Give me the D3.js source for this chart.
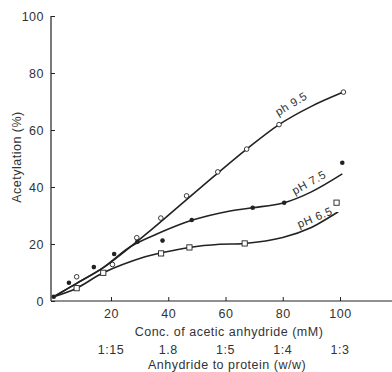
<!DOCTYPE html>
<html><head><meta charset="utf-8">
<script src="https://cdn.jsdelivr.net/npm/d3@7"></script>
<style>
html,body{margin:0;padding:0;background:#fff;}
svg text{font-family:"Liberation Sans",Arial,Helvetica,sans-serif;fill:#333;letter-spacing:0.5px;}
</style></head>
<body><svg id="c" width="392" height="372"></svg>
<script>
// Measured points
const ph95Points = [[8,8.5],[20.5,12.8],[29,22.2],[37.4,29.1],[46.4,36.9],[57.3,45.3],[67.4,53.3],[78.7,61.9],[101.2,73.3]];
const ph75Points = [[0,1.5],[5.3,6.4],[14,11.9],[21.1,16.5],[29.2,20.8],[38,21.2],[48.2,28.4],[69.5,32.7],[80.5,34.5],[100.8,48.5]];
const ph65Points = [[8,4.5],[17.3,9.9],[37.5,16.7],[47.4,18.8],[66.7,20.2],[98.8,34.5]];
// Fitted curves
const ph95Curve = [[0,1.5],[8,6.2],[17.3,11.7],[31.9,23.2],[46.4,35.6],[57.3,44.9],[67.4,53.3],[78.7,61.9],[90,68.3],[101.2,73.3]];
const ph75Curve = [[0,1.5],[8,6.2],[17.3,11.7],[27,19.2],[36,23.5],[48.2,28.3],[61.6,31.6],[69.5,32.7],[80.5,34.5],[90,38.3],[100.8,44.6]];
const ph65Curve = [[0,1.5],[8,4.5],[17.3,9.9],[31.9,15.5],[37.5,16.9],[47.4,18.8],[58,19.9],[66.7,20.2],[80,22.3],[90,25.8],[99.4,31.3]];
// Ticks / labels
const xTicks = [20,40,60,80,100];
const ratioLabels = ["1:15","1.8","1:5","1:4","1:3"];
const yTicks = [0,20,40,60,80,100];
const curveLabels = [
  {text:"ph 9.5", x:83.1, y:68.9, angle:-31},
  {text:"pH 7.5", x:89.3, y:41.3, angle:-29},
  {text:"pH 6.5", x:91.3, y:29.0, angle:-23}
];

const svg = d3.select("#c");
const x = d3.scaleLinear().domain([0,100]).range([53.75,340]);
const y = d3.scaleLinear().domain([0,100]).range([301,16]);
const axisX0 = 51, axisXEnd = 392, axisY0 = 301;
const ink = "#222";
const fs = 12.5;

// axes
const gx = svg.append("g").attr("transform",`translate(0,${axisY0})`)
  .call(d3.axisBottom(x).tickValues(xTicks).tickSize(-4).tickPadding(8));
gx.select(".domain").remove();
gx.selectAll("line").attr("stroke",ink);
gx.selectAll("text").attr("font-size",fs).attr("fill","#333");

const gy = svg.append("g").attr("transform",`translate(${axisX0},0)`)
  .call(d3.axisLeft(y).tickValues(yTicks).tickSize(-4).tickPadding(7));
gy.select(".domain").remove();
gy.selectAll("line").attr("stroke",ink);
gy.selectAll("text").attr("font-size",fs).attr("fill","#333");

svg.append("line").attr("x1",axisX0).attr("x2",axisXEnd).attr("y1",axisY0).attr("y2",axisY0).attr("stroke",ink).attr("stroke-width",1.2);
svg.append("line").attr("x1",axisX0).attr("x2",axisX0).attr("y1",y(100)).attr("y2",axisY0).attr("stroke",ink).attr("stroke-width",1.2);

// ratio labels
svg.selectAll(".ratio").data(xTicks).enter().append("text")
  .attr("x",d=>x(d)).attr("y",354).attr("text-anchor","middle").attr("font-size",fs)
  .text((d,i)=>ratioLabels[i]);

svg.append("text").attr("x",229).attr("y",336).attr("text-anchor","middle").attr("font-size",fs)
  .text("Conc. of acetic anhydride (mM)");
svg.append("text").attr("x",227).attr("y",369).attr("text-anchor","middle").attr("font-size",fs)
  .text("Anhydride to protein (w/w)");
svg.append("text").attr("transform","translate(21,157) rotate(-90)").attr("text-anchor","middle").attr("font-size",fs)
  .text("Acetylation (%)");

// curves
const line = d3.line().x(d=>x(d[0])).y(d=>y(d[1])).curve(d3.curveCatmullRom.alpha(0.5));
[ph95Curve,ph75Curve,ph65Curve].forEach(c=>{
  svg.append("path").attr("d",line(c)).attr("fill","none").attr("stroke",ink).attr("stroke-width",1.6);
});

// markers
svg.selectAll(".p95").data(ph95Points).enter().append("circle")
  .attr("cx",d=>x(d[0])).attr("cy",d=>y(d[1])).attr("r",2.3)
  .attr("fill","#fff").attr("stroke",ink).attr("stroke-width",0.9);
svg.selectAll(".p75").data(ph75Points).enter().append("circle")
  .attr("cx",d=>x(d[0])).attr("cy",d=>y(d[1])).attr("r",2.3).attr("fill",ink);
svg.selectAll(".p65").data(ph65Points).enter().append("rect")
  .attr("x",d=>x(d[0])-2.6).attr("y",d=>y(d[1])-2.6).attr("width",5.2).attr("height",5.2)
  .attr("fill","#fff").attr("stroke",ink).attr("stroke-width",0.9);

// curve labels
svg.selectAll(".cl").data(curveLabels).enter().append("text")
  .attr("transform",d=>`translate(${x(d.x)},${y(d.y)}) rotate(${d.angle})`)
  .attr("text-anchor","middle").attr("dominant-baseline","middle").attr("font-size",11.5)
  .text(d=>d.text);
</script></body></html>
